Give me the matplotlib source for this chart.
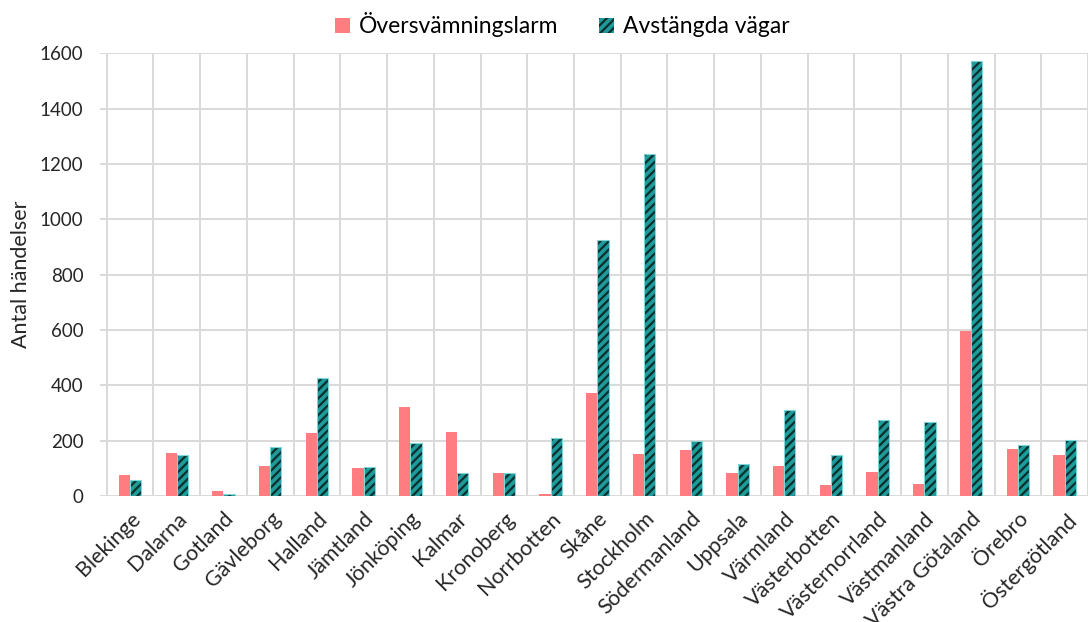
import matplotlib.pyplot as plt
import numpy as np

# data
regions = ["Blekinge", "Dalarna", "Gotland", "Gävleborg", "Halland", "Jämtland",
           "Jönköping", "Kalmar", "Kronoberg", "Norrbotten", "Skåne", "Stockholm",
           "Södermanland", "Uppsala", "Värmland", "Västerbotten", "Västernorrland",
           "Västmanland", "Västra Götaland", "Örebro", "Östergötland"]
flood_alarms = [77, 155, 18, 108, 226, 100, 320, 231, 84, 8, 372, 152,
                167, 84, 110, 40, 86, 44, 597, 169, 147]
closed_roads = [58, 147, 7, 177, 428, 103, 191, 82, 82, 208, 925, 1236,
                198, 115, 310, 147, 276, 269, 1573, 186, 201]

plt.rcParams['font.family'] = ['Lato', 'DejaVu Sans']
plt.rcParams['hatch.linewidth'] = 1.6

fig = plt.figure(figsize=(10.88, 6.22), dpi=100)
ax = fig.add_axes([0.0919, 0.2026, 0.9081, 0.7117])

x = np.arange(len(regions))
w = 0.24

ax.bar(x - w / 2, flood_alarms, w, color='#FF7C80', label='Översvämningslarm', zorder=3)
ax.bar(x + w / 2, closed_roads, w, color='#1E9A9A', edgecolor='#0B2E2E',
       hatch='////', linewidth=0, label='Avstängda vägar', zorder=3)
ax.bar(x + w / 2, closed_roads, w, fill=False, edgecolor='#7FD6D6', linewidth=0.8, zorder=4)

ax.set_ylim(0, 1600)
ax.set_yticks(np.arange(0, 1601, 200))
ax.set_xlim(-0.643, 20.38)
ax.set_xticks(x)
ax.set_xticks(np.arange(-0.5, len(regions), 1), minor=True)
ax.set_xticklabels(regions, rotation=45, ha='right', rotation_mode='anchor')

ax.grid(axis='y', color='#D9D9D9', linewidth=1.4, zorder=0)
ax.grid(axis='x', which='minor', color='#D9D9D9', linewidth=1.4, zorder=0)
ax.tick_params(axis='both', which='both', length=0, colors='#262626')
ax.tick_params(axis='x', labelsize=15.5, pad=9)
ax.tick_params(axis='y', labelsize=13.5, pad=12)
for s in ax.spines.values():
    s.set_visible(False)

ax.set_ylabel('Antal händelser', fontsize=15.5, color='#262626', labelpad=6)

ax.legend(loc='lower center', bbox_to_anchor=(0.468, 1.0), ncol=2, frameon=False,
          fontsize=16.5, handlelength=0.65, handleheight=0.65, handletextpad=0.4,
          columnspacing=1.75, borderaxespad=0.3)

fig.savefig('out.png', dpi=100)
